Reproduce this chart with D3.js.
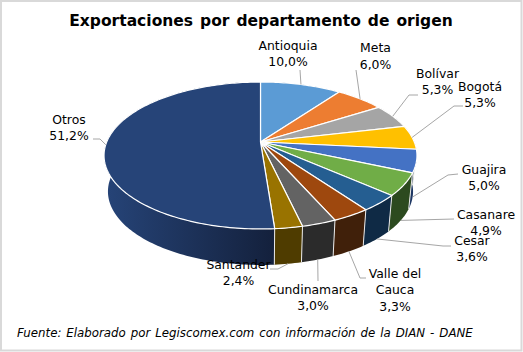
<!DOCTYPE html>
<html>
<head>
<meta charset="utf-8">
<script src="https://cdn.jsdelivr.net/npm/d3@7/dist/d3.min.js"></script>
<style>
  html, body { margin: 0; padding: 0; background: #fff; }
  svg { display: block; }
  text { font-family: "DejaVu Sans", Verdana, sans-serif; fill: #000; }
</style>
</head>
<body>
<div id="root"></div>
<script>
// DATA
const departamentos = ['Antioquia', 'Meta', 'Bolívar', 'Bogotá', 'Guajira', 'Casanare', 'Cesar', 'Valle del Cauca', 'Cundinamarca', 'Santander', 'Otros'];
const porcentajes = [10.0, 6.0, 5.3, 5.3, 5.0, 4.9, 3.6, 3.3, 3.0, 2.4, 51.2];
const etiquetas = ['10,0%', '6,0%', '5,3%', '5,3%', '5,0%', '4,9%', '3,6%', '3,3%', '3,0%', '2,4%', '51,2%'];

// COLORS
const coloresTapa = ['#5b9bd5', '#ed7d31', '#a5a5a5', '#ffc000', '#4472c4', '#70ad47', '#255e91', '#9e480e', '#636363', '#997300', '#264478'];
const coloresPared = ['#2f5270', '#7a4018', '#555555', '#806000', '#1f3864', '#2c4a1f', '#0f2a45', '#40200a', '#2b2b2b', '#4f3c00', '#1a2c50'];

// DIMENSIONS
const width = 523, height = 352;

// disc perspective: apex of the slices sits above the middle of the ellipse
const cx = 260.5, apexY = 142, k = 0.1837, ya = 44.9, rx = 153.8;
const depth = 36, lowerScale = 0.975;

// where each label goes: line breaks and the elbow of its leader, t = 0 top of the disc, 1 bottom of the wall
const labelLayout = [
  { x: 288, y: 45, lines: ['Antioquia'], t: 0, leader: [[300, 70]] },
  { x: 375.5, y: 47.5, lines: ['Meta'], t: 0, leader: [[356, 70]] },
  { x: 437.5, y: 73, lines: ['Bolívar'], t: 0, leader: [[418, 95], [409, 95]] },
  { x: 480, y: 86, lines: ['Bogotá'], t: 0, leader: [[463, 106], [454, 106]] },
  { x: 484, y: 169, lines: ['Guajira'], t: 1, leader: [[458, 174], [448, 175]] },
  { x: 486, y: 214, lines: ['Casanare'], t: 1, leader: [[454, 219]] },
  { x: 472, y: 240, lines: ['Cesar'], t: 1, leader: [[451, 246], [443, 246]] },
  { x: 395, y: 273, lines: ['Valle del', 'Cauca'], t: 1, leader: [[366, 278], [360, 278]] },
  { x: 313, y: 289, lines: ['Cundinamarca'], t: 1, leader: [[318, 281]] },
  { x: 238.5, y: 264, lines: ['Santander'], t: 1, leader: [[270, 269], [278, 269]] },
  { x: 69, y: 119, lines: ['Otros'], t: 0, leader: [[93, 139], [100, 139]] }
];

// angle is clockwise from 12 o'clock, t moves down the wall
function project(angle, t) {
  const u = Math.sin(angle), v = Math.cos(angle);
  const w = 1 + k * v;
  const s = 1 - (1 - lowerScale) * t;
  return [cx + s * rx * u / w, (apexY - ya * v) / w + depth * t];
}

const svg = d3.select('#root').append('svg')
  .attr('width', width)
  .attr('height', height);

// frame
svg.append('rect')
  .attr('x', 1).attr('y', 1)
  .attr('width', width - 2.5).attr('height', height - 2.5)
  .attr('fill', '#fff')
  .attr('stroke', '#d9d9d9')
  .attr('stroke-width', 2);

// title
svg.append('text')
  .attr('x', 261).attr('y', 26)
  .attr('text-anchor', 'middle')
  .style('font-size', '15.5px')
  .style('font-weight', 'bold')
  .style('word-spacing', '1.6px')
  .text('Exportaciones por departamento de origen');

const pie = d3.pie().sort(null).startAngle(0).endAngle(2 * Math.PI);
const slices = pie(porcentajes);
const line = d3.line();

function arcPoints(d, t) {
  const n = Math.max(2, Math.ceil((d.endAngle - d.startAngle) / 0.02));
  return d3.range(n + 1).map((i) => project(d.startAngle + (d.endAngle - d.startAngle) * i / n, t));
}

// gradient for the long Otros wall
const grad = svg.append('defs').append('linearGradient')
  .attr('id', 'otrosPared')
  .attr('gradientUnits', 'userSpaceOnUse')
  .attr('x1', 104).attr('x2', 272).attr('y1', 0).attr('y2', 0);
grad.append('stop').attr('offset', 0).attr('stop-color', '#264478');
grad.append('stop').attr('offset', 1).attr('stop-color', '#14213d');

// walls, far ones first
const wallOrder = d3.range(slices.length).sort((a, b) =>
  d3.ascending(project((slices[a].startAngle + slices[a].endAngle) / 2, 1)[1], project((slices[b].startAngle + slices[b].endAngle) / 2, 1)[1]));

svg.append('g')
  .selectAll('path')
  .data(wallOrder)
  .enter()
  .append('path')
  .attr('d', (i) => line(arcPoints(slices[i], 0).concat(arcPoints(slices[i], 1).reverse())) + 'Z')
  .attr('fill', (i) => (i === 10 ? 'url(#otrosPared)' : coloresPared[i]));

// seams between the walls
svg.append('g')
  .selectAll('path')
  .data(slices)
  .enter()
  .append('path')
  .attr('d', (d) => line([project(d.startAngle, 0), project(d.startAngle, 1)]))
  .attr('stroke', '#e8e8e8')
  .attr('stroke-width', 1);

// top of the disc
svg.append('g')
  .selectAll('path')
  .data(slices)
  .enter()
  .append('path')
  .attr('d', (d) => line([[cx, apexY]].concat(arcPoints(d, 0))) + 'Z')
  .attr('fill', (d, i) => coloresTapa[i])
  .attr('stroke', '#fff')
  .attr('stroke-width', 1.2)
  .attr('stroke-linejoin', 'round');

// leaders
svg.append('g')
  .selectAll('path')
  .data(slices)
  .enter()
  .append('path')
  .attr('d', (d, i) => line(labelLayout[i].leader.concat([project((d.startAngle + d.endAngle) / 2, labelLayout[i].t)])))
  .attr('fill', 'none')
  .attr('stroke', '#a6a6a6')
  .attr('stroke-width', 1);

// labels
const labels = svg.append('g')
  .selectAll('text')
  .data(slices)
  .enter()
  .append('text')
  .attr('text-anchor', 'middle')
  .style('font-size', '12.4px');

labels.each(function (d, i) {
  const lay = labelLayout[i];
  const t = d3.select(this);
  lay.lines.concat([etiquetas[i]]).forEach((s, j) => {
    t.append('tspan')
      .attr('x', lay.x)
      .attr('y', lay.y + 4.5 + j * 16.8)
      .text(s);
  });
});

// source
svg.append('text')
  .attr('x', 17).attr('y', 337)
  .style('font-size', '11.8px')
  .style('font-style', 'italic')
  .style('word-spacing', '1.2px')
  .text('Fuente: Elaborado por Legiscomex.com con información de la DIAN - DANE');
</script>
</body>
</html>
